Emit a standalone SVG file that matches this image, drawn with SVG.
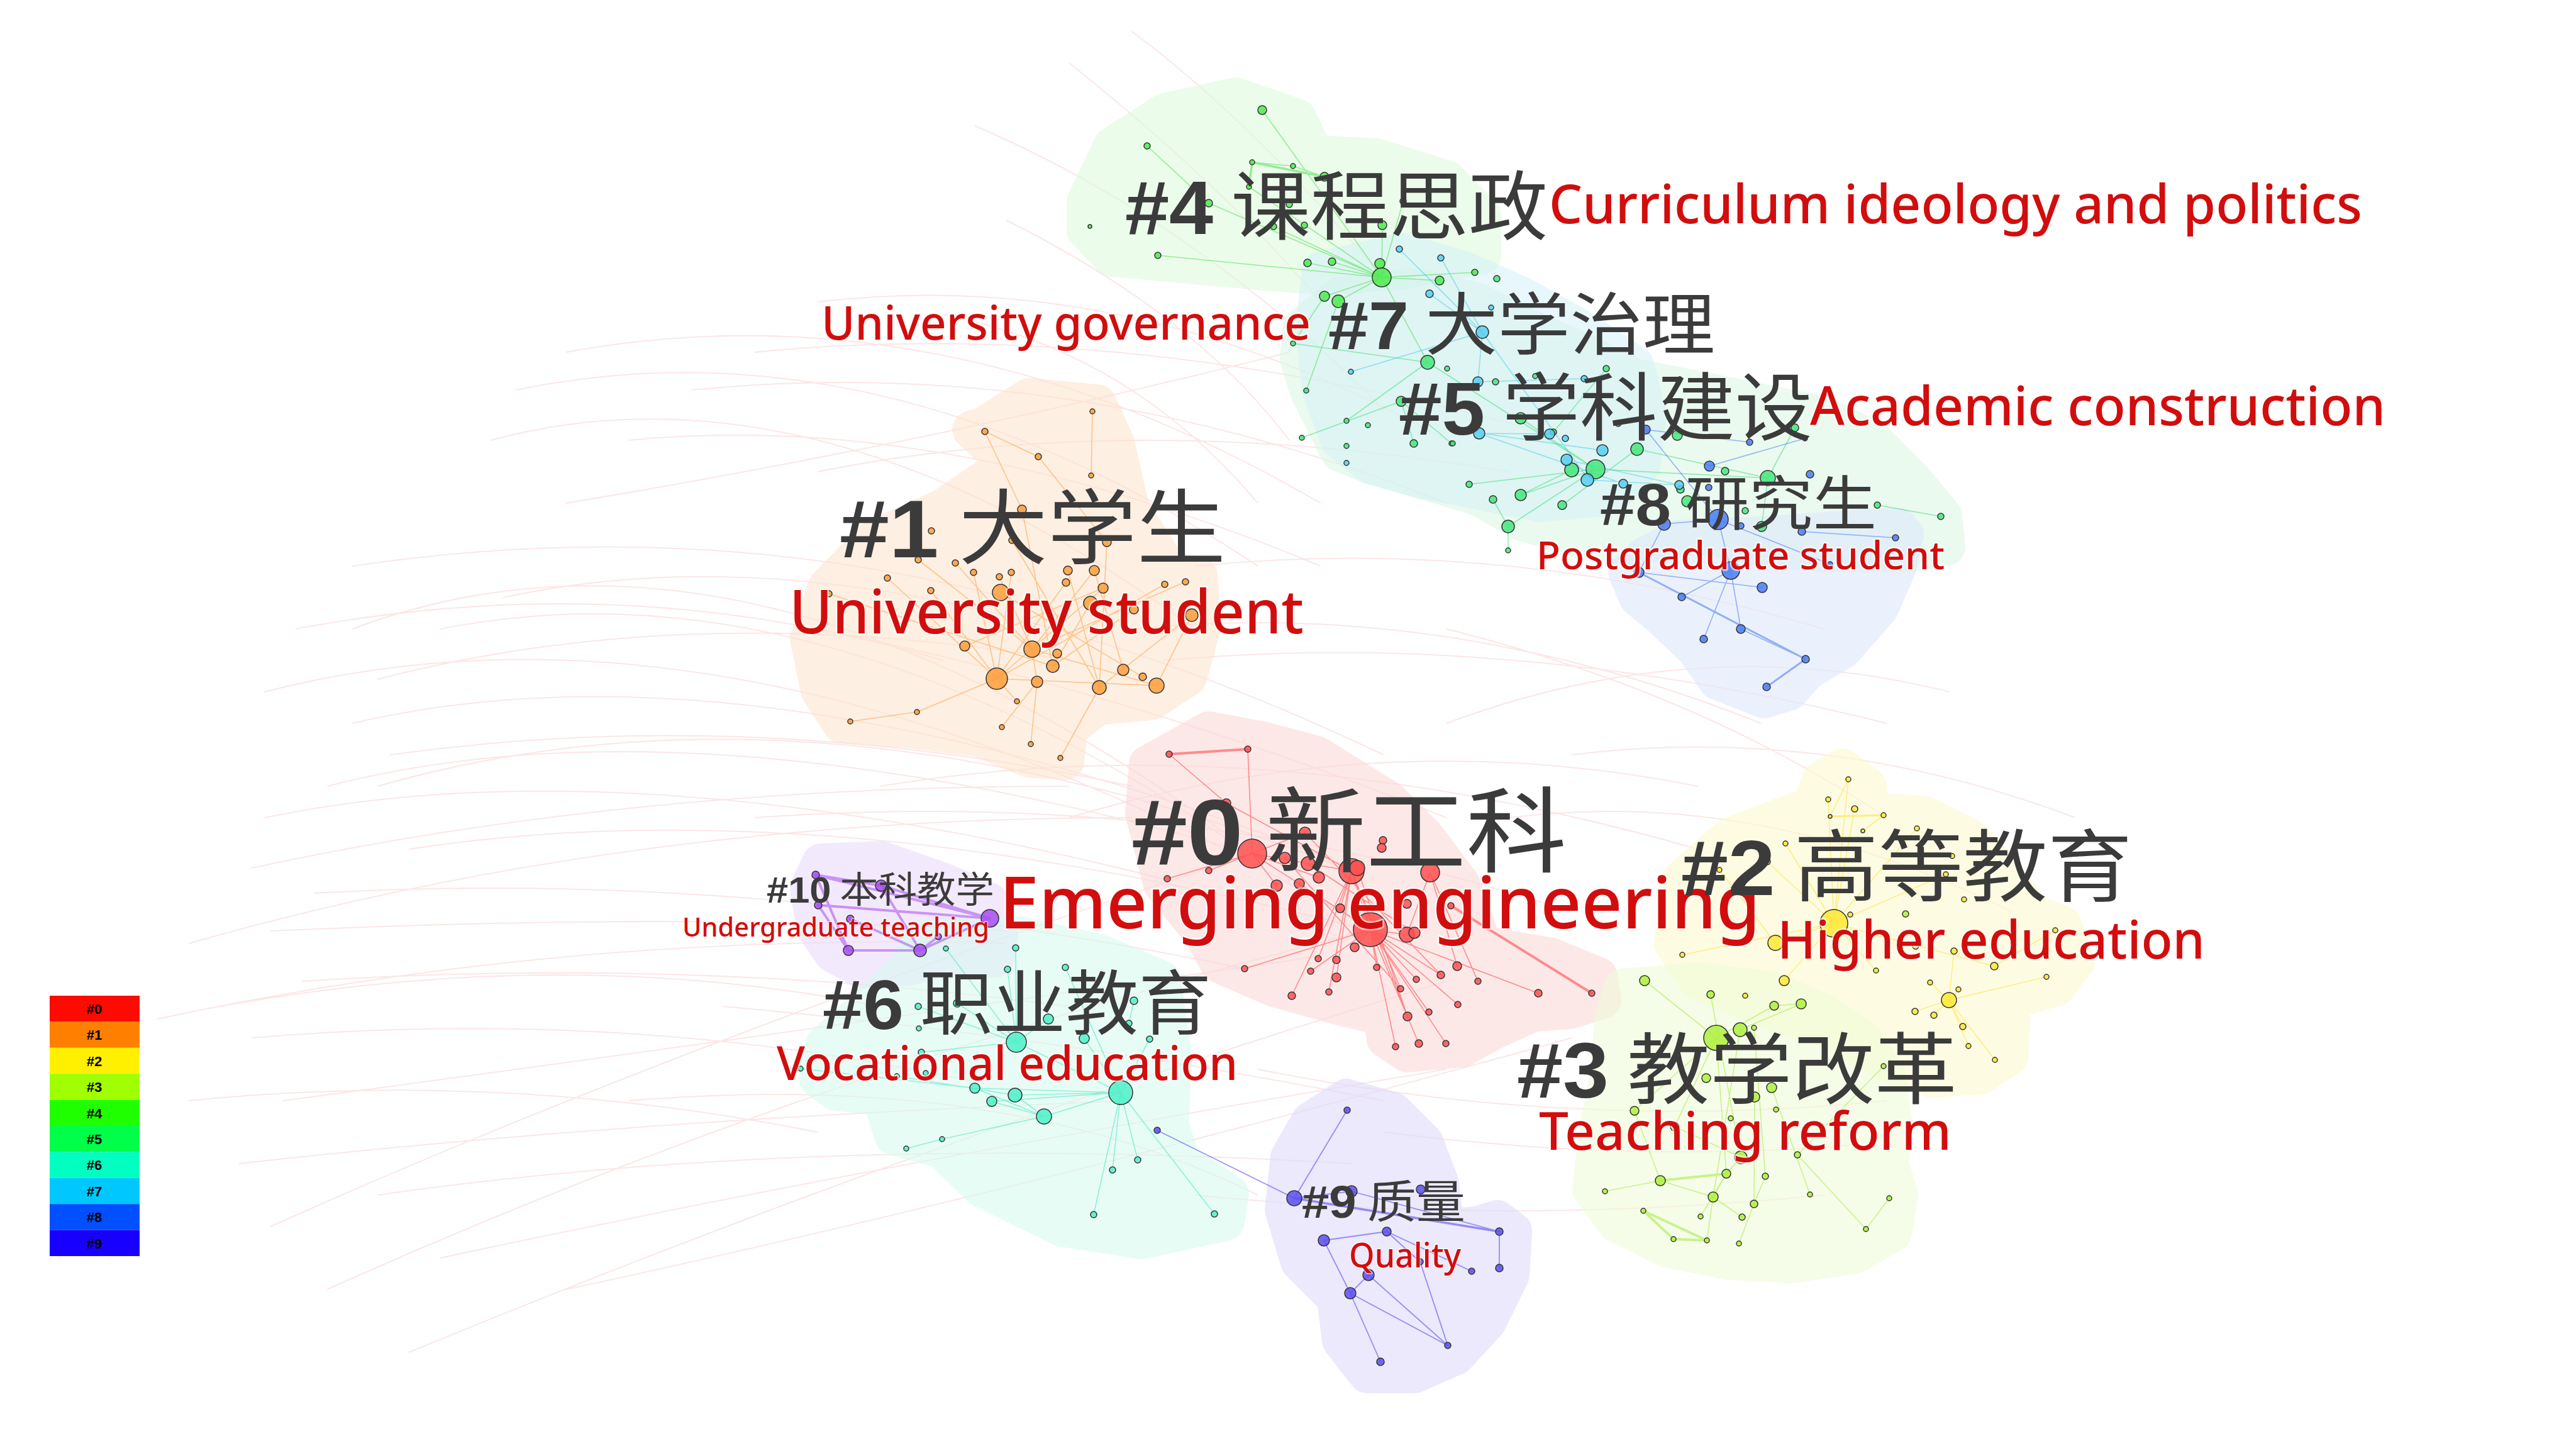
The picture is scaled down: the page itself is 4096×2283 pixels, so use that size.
<svg xmlns="http://www.w3.org/2000/svg" width="4096" height="2283" viewBox="0 0 4096 2283">
<style>
.bl{font-family:"Noto Sans CJK SC","Liberation Sans",sans-serif;fill:#3b3b3b}
.hn{font-family:"Liberation Sans",Arial,sans-serif;font-weight:bold}
.en{font-family:"Noto Sans","Open Sans",sans-serif;font-weight:500;fill:#d20d0d;stroke:#fff;stroke-width:5;stroke-opacity:.6;paint-order:stroke;stroke-linejoin:round}
.area{stroke-width:60;stroke-linejoin:round}
.nodes circle{stroke:#333;stroke-width:1.5;fill-opacity:.85}
.n0 circle{fill:#ff5050}.n1 circle{fill:#ff9d3c}.n2 circle{fill:#ffe835}.n3 circle{fill:#aef03c}
.n4 circle{fill:#4eea4e}.n5 circle{fill:#44e67a}.n6 circle{fill:#4ef0c8}.n7 circle{fill:#56cff2}
.n8 circle{fill:#4a7cf2}.n9 circle{fill:#5a4ef2}.n10 circle{fill:#a44ef2}
.lg{font-family:"Liberation Sans",Arial,sans-serif;font-weight:bold;font-size:22px;fill:#000;text-anchor:middle}
</style>
<rect width="4096" height="2283" fill="#fff"/>

<g id="background-links" fill="none" stroke="#f29a9a" stroke-width="2" opacity="0.25">
<path d="M420,1300Q1000,1180 1860,1400M520,1250Q1100,1100 2000,1360M560,1150Q1200,1000 2150,1380M600,1080Q1100,950 1700,1050M700,1000Q1300,880 1990,1360M800,950Q1400,820 2200,1200M650,1350Q1300,1250 2180,1480M500,1420Q1200,1380 1980,1540M430,1480Q1100,1450 1600,1480M480,1560Q1100,1520 1700,1600M400,1650Q1000,1600 1550,1720M450,1750Q1200,1650 2100,1520M380,1850Q1000,1780 1800,1750M600,1900Q1300,1800 2150,1850M700,2000Q1400,1850 2300,1700M900,2050Q1600,1900 2500,1650M1000,700Q1500,650 2100,900M1100,620Q1700,560 2300,800M1200,560Q1800,500 2500,700M900,800Q1500,700 2050,560M1300,750Q1800,650 2400,750M1500,500Q1800,560 2000,800M1600,350Q1900,500 2050,700M1550,200Q1900,350 2200,650M1700,100Q1950,300 2100,480M1800,50Q2000,200 2197,441M2300,1000Q2700,1100 3000,1300M2000,1700Q2500,1800 3000,1750M2200,1800Q2600,1850 2950,1820M1900,1900Q2400,1950 2900,1900M1300,1000Q1800,1100 2300,1300M1400,1250Q2000,1150 2700,1350M1200,1300Q1900,1250 2500,1450M2400,1300Q2800,1250 3200,1450M2500,1200Q2900,1150 3300,1300M2300,1150Q2700,1000 3100,1100M560,900Q1100,820 1600,950M470,1000Q1000,900 1500,1050M620,1200Q1200,1120 1800,1250M350,1600Q900,1500 1400,1600M300,1750Q800,1700 1300,1800M1150,1600Q1700,1650 2200,1750M1000,1750Q1600,1700 2000,1900M1800,1000Q2300,950 2800,1150M1900,900Q2400,850 2900,1000M780,700Q1300,560 1900,1000M820,620Q1400,500 2000,900M900,560Q1500,450 2100,800M1300,480Q1800,420 2300,700M560,1000Q1200,760 1991,1357M420,1100Q1200,900 2179,1478M600,1250Q1300,1050 2149,1385M430,1950Q1100,1650 1991,1357M520,2050Q1300,1700 2179,1478M650,2150Q1500,1800 2300,1560M300,1500Q1000,1300 1800,1300M400,1380Q1000,1250 1700,1250M250,1620Q900,1480 1600,1500M1700,1300Q2200,1150 2700,1250M1850,1050Q2400,1000 3000,1150"/>
</g>

<g id="cluster-areas">
<g id="area-4" opacity="0.55"><path class="area" fill="#dcfadc" stroke="#dcfadc" d="M1768,232L1852,178L1965,153L2063,187L2091,245L2189,250L2301,285L2357,343L2357,406L2231,430L2110,440L1990,430L1880,420L1768,410L1726,366L1726,321Z"/></g>
<g id="area-5" opacity="0.55"><path class="area" fill="#d9f7e3" stroke="#d9f7e3" d="M2070,520L2130,470L2250,455L2350,480L2450,530L2520,560L2600,600L2700,620L2800,640L2900,660L2980,700L3040,760L3090,820L3095,870L3030,880L2900,880L2800,870L2700,850L2600,870L2520,860L2420,830L2350,790L2250,760L2180,740L2130,720L2110,680L2080,620L2065,570Z"/></g>
<g id="area-7" opacity="0.5"><path class="area" fill="#d3f1f8" stroke="#d3f1f8" d="M2100,430L2230,400L2330,430L2420,470L2510,520L2600,580L2620,660L2610,740L2560,790L2450,800L2350,780L2250,760L2180,740L2130,700L2100,620L2090,520Z"/></g>
<g id="area-8" opacity="0.6"><path class="area" fill="#dfe8fb" stroke="#dfe8fb" d="M2587,910L2616,883L2667,857L2817,850L2960,840L3018,837L3029,850L3018,900L2989,967L2931,1033L2874,1067L2845,1100L2805,1112L2731,1083L2696,1033L2644,983L2604,950Z"/></g>
<g id="area-1" opacity="0.55"><path class="area" fill="#fde3cc" stroke="#fde3cc" d="M1567,675L1636,631L1745,641L1774,704L1797,807L1860,907L1906,915L1912,994L1889,1077L1831,1115L1745,1123L1699,1160L1694,1210L1636,1206L1556,1173L1453,1160L1338,1152L1303,1098L1286,1015L1315,932L1389,857L1499,807L1602,737L1544,683Z"/></g>
<g id="area-0" opacity="0.55"><path class="area" fill="#fcd6d6" stroke="#fcd6d6" d="M1825,1215L1922,1161L2008,1177L2094,1200L2209,1272L2267,1330L2324,1406L2358,1502L2467,1521L2542,1552L2548,1590L2496,1606L2439,1610L2381,1636L2324,1667L2238,1675L2203,1652L2198,1617L2123,1598L2026,1571L1939,1533L1911,1483L1848,1406L1819,1292Z"/></g>
<g id="area-10" opacity="0.6"><path class="area" fill="#ecdcfb" stroke="#ecdcfb" d="M1305,1371L1401,1367L1496,1400L1573,1433L1589,1487L1583,1524L1496,1524L1445,1537L1369,1541L1324,1516L1296,1474L1286,1412Z"/></g>
<g id="area-6" opacity="0.5"><path class="area" fill="#d3fbef" stroke="#d3fbef" d="M1465,1491L1624,1487L1752,1516L1847,1557L1866,1682L1860,1786L1879,1848L1956,1898L1949,1943L1815,1972L1688,1952L1560,1889L1496,1827L1420,1806L1401,1744L1330,1736L1300,1715L1310,1661L1380,1599L1445,1537Z"/></g>
<g id="area-9" opacity="0.6"><path class="area" fill="#dedcfa" stroke="#dedcfa" d="M2141,1745L2215,1766L2265,1816L2290,1882L2298,1952L2348,1948L2381,1938L2406,1957L2402,2027L2365,2102L2315,2156L2249,2185L2174,2185L2132,2131L2124,2064L2066,2006L2041,1923L2050,1840L2083,1782Z"/></g>
<g id="area-2" opacity="0.55"><path class="area" fill="#fcfbcc" stroke="#fcfbcc" d="M2930,1220L2970,1250L2975,1290L3060,1295L3130,1330L3180,1380L3230,1450L3280,1470L3300,1530L3270,1570L3200,1590L3195,1680L3150,1710L3070,1715L3000,1690L2920,1640L2820,1610L2700,1560L2660,1500L2670,1400L2750,1330L2880,1280L2895,1240Z"/></g>
<g id="area-3" opacity="0.55"><path class="area" fill="#eefcd6" stroke="#eefcd6" d="M2580,1570L2700,1560L2820,1575L2900,1610L2960,1650L3000,1710L3010,1780L3005,1850L3020,1900L3010,1960L2950,1995L2850,2010L2750,2005L2650,1985L2570,1945L2530,1890L2540,1800L2560,1700L2565,1620Z"/></g>
</g>

<g id="connectors" fill="none" stroke-linecap="round">
<g id="edges-0" stroke="#ff4040" opacity="0.55" stroke-width="1.6">
<path d="M1984,1191L1991,1357M1859,1199L1950,1277M1991,1357L2075,1324M1991,1357L2149,1385M1991,1357L2179,1478M1991,1357L1922,1384M1991,1357L1856,1397M1991,1357L2030,1408M1991,1357L2097,1395M2149,1385L2131,1444M2149,1385L2179,1478M2149,1385L2096,1524M2149,1385L2125,1554M2149,1385L2054,1583M2149,1385L2113,1577M2149,1385L2227,1572M2149,1385L2238,1616M2179,1478L2237,1486M2179,1478L2154,1506M2179,1478L2189,1538M2179,1478L2252,1557M2179,1478L2291,1550M2179,1478L2318,1597M2179,1478L2272,1609M2179,1478L2219,1664M2179,1478L2256,1659M2179,1478L2299,1659M2179,1478L2446,1579M2179,1478L2084,1544M2179,1478L1979,1540M2274,1387L2237,1486M2274,1387L2350,1560M2274,1387L2317,1536M2066,1405L2179,1478M2080,1373L2249,1483M2158,1380L2238,1616M2043,1364L2227,1572M2075,1324L2291,1550M1950,1277L2149,1385"/>
<path stroke-width="4" d="M1859,1199L1984,1191M2307,1440L2531,1579"/>
</g>
<g id="edges-1" stroke="#ff9a30" opacity="0.5" stroke-width="1.6">
<path d="M1737,654L1735,756M1566,686L1651,726M1566,686L1625,810M1651,726L1760,862M1585,1079L1411,919M1585,1079L1480,939M1585,1079L1548,910M1585,1079L1608,910M1585,1079L1695,926M1585,1079L1754,935M1585,1079L1852,929M1585,1079L1458,1132M1585,1079L1617,1115M1585,1079L1839,1090M1641,1032L1460,890M1641,1032L1519,895M1641,1032L1589,917M1641,1032L1740,907M1641,1032L1885,925M1641,1032L1839,1090M1641,1032L1649,1084M1748,1093L1698,907M1748,1093L1760,862M1748,1093L1609,859M1748,1093L1686,1205M1748,1093L1895,978M1674,1059L1625,810M1674,1059L1734,959M1674,1059L1803,969M1674,1059L1318,944M1649,1084L1593,1156M1649,1084L1639,1183M1352,1147L1458,1132M1839,1090L1895,978M1786,1065L1740,907M1534,1027L1754,935M1591,942L1817,1076"/>
</g>
<g id="edges-10" stroke="#a040f0" opacity="0.5" stroke-width="4">
<path d="M1297,1391L1574,1460M1401,1408L1574,1460M1301,1439L1574,1460M1349,1511L1463,1511M1463,1511L1574,1460M1297,1391L1349,1511M1401,1408L1463,1511M1352,1461L1463,1511M1297,1391L1401,1408M1301,1439L1349,1511M1492,1489L1463,1511"/>
</g>
<g id="edges-6" stroke="#30e8b8" opacity="0.5" stroke-width="1.6">
<path d="M1782,1737L1614,1741M1782,1737L1577,1751M1782,1737L1550,1730M1782,1737L1660,1775M1782,1737L1769,1860M1782,1737L1809,1844M1782,1737L1931,1930M1782,1737L1739,1931M1782,1737L1694,1538M1782,1737L1828,1652M1782,1737L1616,1657M1616,1657L1522,1595M1616,1657L1602,1541M1616,1657L1615,1507M1616,1657L1504,1508M1616,1657L1460,1600M1616,1657L1465,1673M1616,1657L1667,1620M1660,1775L1498,1811M1660,1775L1550,1730M1660,1775L1577,1751M1660,1775L1614,1741M1498,1811L1441,1826M1273,1699L1550,1730M1426,1711L1614,1741M1803,1591L1795,1627M1724,1651L1782,1737"/>
</g>
<g id="edges-9" stroke="#5040f0" opacity="0.55" stroke-width="1.8">
<path d="M1840,1797L2058,1905M2142,1765L2058,1905M2149,1894L2384,1958M2384,1958L2384,2016M2105,1972L2147,2056M2147,2056L2176,2027M2147,2056L2302,2139M2176,2027L2302,2139M2147,2056L2195,2165M2205,1958L2258,2006M2258,2006L2302,2139M2105,1972L2205,1958M2205,1958L2340,2021M2058,1905L2149,1894"/>
<path stroke-width="3.5" d="M2058,1905L2384,1958"/>
</g>
<g id="edges-3" stroke="#9ee830" opacity="0.5" stroke-width="1.6">
<path d="M2615,1559L2729,1650M2720,1581L2768,1840M2821,1599L2864,1596M2821,1599L2729,1650M2864,1596L2767,1637M2729,1650L2599,1766M2729,1650L2663,1791M2729,1650L2745,1866M2767,1637L2724,1903M2789,1634L2807,1870M2817,1729L2878,1899M2790,1744L2789,1914M2768,1840L2745,1866M2745,1866L2724,1903M2724,1903L2770,1935M2789,1914L2765,1977M2807,1870L2789,1914M2967,1954L3004,1905M2967,1954L2858,1836M2640,1877L2724,1903M2552,1894L2640,1877M2704,1934L2745,1866M2714,1972L2724,1903M2599,1766L2640,1877M2663,1791L2768,1840M2858,1836L2995,1695"/>
<path stroke-width="4" d="M2640,1877L2745,1866M2613,1925L2661,1970L2714,1972Z"/>
</g>
<g id="edges-2" stroke="#ffe020" opacity="0.5" stroke-width="1.6">
<path d="M2916,1468L2939,1239M2916,1468L2907,1271M2916,1468L2949,1286M2916,1468L3048,1317M2916,1468L2839,1341M2916,1468L2810,1370M2916,1468L3094,1390M2916,1468L2942,1454M2916,1468L2823,1499M2916,1468L2675,1518M2916,1468L3046,1504M2916,1468L2983,1543M2916,1468L2837,1559M2916,1468L3171,1536M3099,1590L3069,1562M3099,1590L3114,1573M3099,1590L3045,1608M3099,1590L3075,1614M3099,1590L3121,1632M3099,1590L3130,1663M3099,1590L3172,1685M3099,1590L3254,1553M3099,1590L3107,1512M2939,1239L2910,1298M2995,1296L2962,1321M2823,1499L2734,1383M3171,1536L3268,1479"/>
<path stroke-width="3" d="M2910,1298L2995,1296"/>
</g>
<g id="edges-4" stroke="#40e040" opacity="0.5" stroke-width="1.6">
<path d="M2007,175L2197,441M1824,232L1922,323M1991,258L2056,264M2056,264L2106,281M1922,323L2197,441M2197,441L2079,418M2197,441L2118,416M2197,441L2345,433M2197,441L2106,471M2197,441L2289,446M2197,441L2270,576M2197,441L2128,479M2106,471L2056,546M2128,479L2077,621M2197,441L2025,360M2197,441L1986,297M1841,406L2197,441M2198,358L2197,441M2231,320L2197,441"/>
<path stroke-width="3.5" d="M1991,258L2106,281M1991,258L1986,297"/>
</g>
<g id="edges-5" stroke="#30dd70" opacity="0.5" stroke-width="1.6">
<path d="M2270,576L2056,546M2270,576L2141,669M2537,746L2398,837M2537,746L2336,770M2537,746L2418,787M2537,746L2811,760M2985,803L3086,821M2398,837L2398,875M2374,794L2398,837M2418,787L2499,747M2603,714L2484,803M2228,638L2070,696M2228,638L2248,705M2228,638L2308,705M2603,714L2811,760M2554,586L2470,687M2801,837L2811,760M2418,665L2537,746M2270,576L2537,746M2854,680L2811,760"/>
</g>
<g id="edges-7" stroke="#40c8f0" opacity="0.5" stroke-width="1.6">
<path d="M2357,528L2225,396M2357,528L2291,410M2357,528L2148,591M2357,528L2350,607M2357,528L2526,763M2350,607L2519,602M2464,690L2352,689M2548,716L2357,689M2526,763L2670,771M2273,467L2357,528M2352,689L2581,769M2491,731L2670,771"/>
</g>
<g id="edges-8" stroke="#3a70f0" opacity="0.5" stroke-width="1.6">
<path d="M2732,826L2617,683M2732,826L2646,833M2732,826L2752,907M2752,907L2709,1016M2752,907L2768,1000M2752,907L2674,949M2606,910L2802,934M2768,1000L2871,1048M2865,845L3014,855M2616,683L2782,703M2718,741L2870,697M2646,833L2606,910M2732,826L2910,897"/>
<path stroke-width="3" d="M2606,910L2871,1048M2871,1048L2809,1092"/>
</g>
</g>

<g id="cluster-0-nodes" class="nodes n0">
<circle cx="1859" cy="1199" r="5"/><circle cx="1984" cy="1191" r="5"/><circle cx="1950" cy="1277" r="7"/><circle cx="1991" cy="1357" r="23"/><circle cx="2075" cy="1324" r="9"/><circle cx="2043" cy="1364" r="9"/><circle cx="2080" cy="1373" r="11"/><circle cx="2149" cy="1385" r="20"/><circle cx="2158" cy="1380" r="12"/><circle cx="2199" cy="1336" r="6"/><circle cx="2197" cy="1348" r="7"/><circle cx="2274" cy="1387" r="15"/><circle cx="2097" cy="1395" r="9"/><circle cx="2066" cy="1405" r="8"/><circle cx="2030" cy="1408" r="9"/><circle cx="1922" cy="1384" r="5"/><circle cx="1856" cy="1397" r="5"/><circle cx="2131" cy="1444" r="7"/><circle cx="2237" cy="1437" r="7"/><circle cx="2307" cy="1440" r="5"/><circle cx="2179" cy="1478" r="27"/><circle cx="2237" cy="1486" r="12"/><circle cx="2249" cy="1483" r="9"/><circle cx="2154" cy="1506" r="7"/><circle cx="2096" cy="1524" r="5"/><circle cx="2125" cy="1526" r="6"/><circle cx="1979" cy="1540" r="5"/><circle cx="2084" cy="1544" r="5"/><circle cx="2189" cy="1538" r="5"/><circle cx="2317" cy="1536" r="7"/><circle cx="2125" cy="1554" r="7"/><circle cx="2252" cy="1557" r="5"/><circle cx="2291" cy="1550" r="6"/><circle cx="2350" cy="1560" r="5"/><circle cx="2054" cy="1583" r="6"/><circle cx="2113" cy="1577" r="5"/><circle cx="2227" cy="1572" r="5"/><circle cx="2446" cy="1579" r="6"/><circle cx="2531" cy="1579" r="5"/><circle cx="2318" cy="1597" r="5"/><circle cx="2272" cy="1609" r="5"/><circle cx="2238" cy="1616" r="7"/><circle cx="2219" cy="1664" r="5"/><circle cx="2256" cy="1659" r="6"/><circle cx="2299" cy="1659" r="5"/>
</g>
<g id="cluster-1-nodes" class="nodes n1">
<circle cx="1737" cy="654" r="4"/><circle cx="1566" cy="686" r="5"/><circle cx="1651" cy="726" r="5"/><circle cx="1735" cy="756" r="4"/><circle cx="1625" cy="810" r="7"/><circle cx="1481" cy="844" r="5"/><circle cx="1609" cy="859" r="5"/><circle cx="1760" cy="862" r="7"/><circle cx="1460" cy="890" r="5"/><circle cx="1519" cy="895" r="5"/><circle cx="1548" cy="910" r="5"/><circle cx="1608" cy="910" r="5"/><circle cx="1698" cy="907" r="7"/><circle cx="1740" cy="907" r="8"/><circle cx="1589" cy="917" r="5"/><circle cx="1411" cy="919" r="5"/><circle cx="1695" cy="926" r="6"/><circle cx="1754" cy="935" r="8"/><circle cx="1852" cy="929" r="5"/><circle cx="1885" cy="925" r="5"/><circle cx="1318" cy="944" r="5"/><circle cx="1480" cy="939" r="5"/><circle cx="1591" cy="942" r="13"/><circle cx="1734" cy="959" r="11"/><circle cx="1803" cy="969" r="7"/><circle cx="1895" cy="978" r="10"/><circle cx="1534" cy="1027" r="8"/><circle cx="1641" cy="1032" r="13"/><circle cx="1681" cy="1039" r="7"/><circle cx="1674" cy="1059" r="10"/><circle cx="1585" cy="1079" r="17"/><circle cx="1786" cy="1065" r="9"/><circle cx="1817" cy="1076" r="6"/><circle cx="1649" cy="1084" r="9"/><circle cx="1748" cy="1093" r="11"/><circle cx="1839" cy="1090" r="12"/><circle cx="1617" cy="1115" r="4"/><circle cx="1458" cy="1132" r="4"/><circle cx="1352" cy="1147" r="4"/><circle cx="1593" cy="1156" r="4"/><circle cx="1639" cy="1183" r="4"/><circle cx="1686" cy="1205" r="4"/>
</g>
<g id="cluster-10-nodes" class="nodes n10">
<circle cx="1297" cy="1391" r="6"/><circle cx="1401" cy="1408" r="9"/><circle cx="1301" cy="1439" r="6"/><circle cx="1574" cy="1460" r="14"/><circle cx="1352" cy="1461" r="6"/><circle cx="1492" cy="1489" r="5"/><circle cx="1349" cy="1511" r="8"/><circle cx="1463" cy="1511" r="10"/>
</g>
<g id="cluster-6-nodes" class="nodes n6">
<circle cx="1504" cy="1508" r="4"/><circle cx="1615" cy="1507" r="5"/><circle cx="1694" cy="1538" r="5"/><circle cx="1602" cy="1541" r="5"/><circle cx="1522" cy="1595" r="6"/><circle cx="1460" cy="1600" r="5"/><circle cx="1667" cy="1620" r="8"/><circle cx="1803" cy="1591" r="6"/><circle cx="1795" cy="1627" r="5"/><circle cx="1724" cy="1651" r="8"/><circle cx="1828" cy="1652" r="5"/><circle cx="1461" cy="1635" r="4"/><circle cx="1616" cy="1657" r="16"/><circle cx="1465" cy="1673" r="5"/><circle cx="1273" cy="1699" r="4"/><circle cx="1426" cy="1711" r="4"/><circle cx="1472" cy="1706" r="4"/><circle cx="1550" cy="1730" r="8"/><circle cx="1614" cy="1741" r="11"/><circle cx="1577" cy="1751" r="8"/><circle cx="1782" cy="1737" r="19"/><circle cx="1660" cy="1775" r="12"/><circle cx="1498" cy="1811" r="4"/><circle cx="1441" cy="1826" r="4"/><circle cx="1809" cy="1844" r="5"/><circle cx="1769" cy="1860" r="5"/><circle cx="1739" cy="1931" r="5"/><circle cx="1931" cy="1930" r="5"/>
</g>
<g id="cluster-9-nodes" class="nodes n9">
<circle cx="1840" cy="1797" r="5"/><circle cx="2142" cy="1765" r="5"/><circle cx="2058" cy="1905" r="12"/><circle cx="2149" cy="1894" r="9"/><circle cx="2259" cy="1891" r="7"/><circle cx="2205" cy="1958" r="7"/><circle cx="2105" cy="1972" r="9"/><circle cx="2384" cy="1958" r="6"/><circle cx="2384" cy="2016" r="6"/><circle cx="2340" cy="2021" r="5"/><circle cx="2258" cy="2006" r="5"/><circle cx="2176" cy="2027" r="9"/><circle cx="2147" cy="2056" r="9"/><circle cx="2302" cy="2139" r="5"/><circle cx="2195" cy="2165" r="6"/>
</g>
<g id="cluster-3-nodes" class="nodes n3">
<circle cx="2615" cy="1559" r="8"/><circle cx="2720" cy="1581" r="6"/><circle cx="2821" cy="1599" r="7"/><circle cx="2864" cy="1596" r="8"/><circle cx="2729" cy="1650" r="20" fill-opacity=".5"/><circle cx="2767" cy="1637" r="11" fill-opacity=".5"/><circle cx="2789" cy="1634" r="4"/><circle cx="2713" cy="1714" r="7" fill-opacity=".5"/><circle cx="2817" cy="1729" r="8" fill-opacity=".5"/><circle cx="2790" cy="1744" r="8" fill-opacity=".5"/><circle cx="2824" cy="1764" r="4"/><circle cx="2752" cy="1778" r="4"/><circle cx="2995" cy="1695" r="4"/><circle cx="2858" cy="1836" r="5"/><circle cx="2768" cy="1840" r="10" fill-opacity=".5"/><circle cx="2745" cy="1866" r="7"/><circle cx="2807" cy="1870" r="5"/><circle cx="2724" cy="1903" r="8"/><circle cx="2789" cy="1914" r="6"/><circle cx="2878" cy="1899" r="4"/><circle cx="3004" cy="1905" r="4"/><circle cx="2704" cy="1934" r="4"/><circle cx="2770" cy="1935" r="5"/><circle cx="2967" cy="1954" r="4"/><circle cx="2714" cy="1972" r="4"/><circle cx="2765" cy="1977" r="4"/><circle cx="2599" cy="1766" r="7"/><circle cx="2663" cy="1791" r="7"/><circle cx="2552" cy="1894" r="4"/><circle cx="2640" cy="1877" r="8"/><circle cx="2613" cy="1925" r="4"/><circle cx="2661" cy="1970" r="4"/><circle cx="3030" cy="1453" r="5"/>
</g>
<g id="cluster-2-nodes" class="nodes n2">
<circle cx="2939" cy="1239" r="4"/><circle cx="2907" cy="1271" r="4"/><circle cx="2949" cy="1286" r="5"/><circle cx="2995" cy="1296" r="4"/><circle cx="2910" cy="1298" r="3"/><circle cx="3048" cy="1317" r="4"/><circle cx="2962" cy="1321" r="3"/><circle cx="2839" cy="1341" r="4"/><circle cx="3104" cy="1361" r="4"/><circle cx="2810" cy="1370" r="5"/><circle cx="2734" cy="1383" r="4"/><circle cx="3094" cy="1390" r="4"/><circle cx="3123" cy="1430" r="4"/><circle cx="2942" cy="1454" r="4"/><circle cx="2916" cy="1468" r="22"/><circle cx="2823" cy="1499" r="12"/><circle cx="3046" cy="1504" r="5"/><circle cx="3107" cy="1512" r="5"/><circle cx="2675" cy="1518" r="4"/><circle cx="3268" cy="1479" r="4"/><circle cx="2983" cy="1543" r="4"/><circle cx="3171" cy="1536" r="6"/><circle cx="2837" cy="1559" r="8"/><circle cx="3254" cy="1553" r="4"/><circle cx="3069" cy="1562" r="4"/><circle cx="3114" cy="1573" r="4"/><circle cx="2775" cy="1583" r="4"/><circle cx="3099" cy="1590" r="12"/><circle cx="3045" cy="1608" r="5"/><circle cx="3075" cy="1614" r="5"/><circle cx="3121" cy="1632" r="5"/><circle cx="3130" cy="1663" r="4"/><circle cx="3172" cy="1685" r="4"/>
</g>
<g id="cluster-4-nodes" class="nodes n4">
<circle cx="2007" cy="175" r="7"/><circle cx="1991" cy="258" r="4"/><circle cx="2056" cy="264" r="4"/><circle cx="2106" cy="281" r="7" fill-opacity=".5"/><circle cx="1922" cy="323" r="6" fill-opacity=".5"/><circle cx="1986" cy="297" r="4"/><circle cx="2050" cy="325" r="5" fill-opacity=".5"/><circle cx="2198" cy="358" r="7" fill-opacity=".5"/><circle cx="2231" cy="320" r="5" fill-opacity=".5"/><circle cx="2074" cy="358" r="5"/><circle cx="2025" cy="360" r="5"/><circle cx="2079" cy="418" r="6"/><circle cx="2118" cy="416" r="6"/><circle cx="2194" cy="419" r="8"/><circle cx="2197" cy="441" r="15"/><circle cx="2289" cy="446" r="7"/><circle cx="2345" cy="433" r="5"/><circle cx="2106" cy="471" r="8"/><circle cx="2128" cy="479" r="10" fill-opacity=".5"/><circle cx="1824" cy="232" r="5"/><circle cx="1733" cy="360" r="3"/><circle cx="1841" cy="406" r="5"/>
</g>
<g id="cluster-5-nodes" class="nodes n5">
<circle cx="2380" cy="443" r="5"/><circle cx="2270" cy="576" r="11"/><circle cx="2056" cy="546" r="4"/><circle cx="2077" cy="621" r="4"/><circle cx="2301" cy="586" r="4"/><circle cx="2378" cy="607" r="5"/><circle cx="2441" cy="598" r="4"/><circle cx="2554" cy="586" r="5"/><circle cx="2228" cy="638" r="8"/><circle cx="2141" cy="669" r="4"/><circle cx="2175" cy="676" r="4"/><circle cx="2070" cy="696" r="4"/><circle cx="2248" cy="705" r="6"/><circle cx="2308" cy="705" r="4"/><circle cx="2141" cy="709" r="4"/><circle cx="2470" cy="687" r="5"/><circle cx="2418" cy="665" r="9"/><circle cx="2310" cy="705" r="4"/><circle cx="2667" cy="692" r="8"/><circle cx="2854" cy="680" r="6"/><circle cx="2603" cy="714" r="10"/><circle cx="2499" cy="747" r="11"/><circle cx="2537" cy="746" r="15"/><circle cx="2743" cy="749" r="6"/><circle cx="2811" cy="760" r="12"/><circle cx="2336" cy="770" r="5"/><circle cx="2374" cy="794" r="6"/><circle cx="2418" cy="787" r="9"/><circle cx="2484" cy="803" r="7"/><circle cx="2672" cy="778" r="6"/><circle cx="2683" cy="797" r="9"/><circle cx="2398" cy="837" r="10"/><circle cx="2775" cy="812" r="5"/><circle cx="2801" cy="837" r="8"/><circle cx="2985" cy="803" r="5"/><circle cx="3086" cy="821" r="5"/><circle cx="2398" cy="875" r="4"/>
</g>
<g id="cluster-7-nodes" class="nodes n7">
<circle cx="2225" cy="396" r="5"/><circle cx="2291" cy="410" r="5"/><circle cx="2273" cy="467" r="6"/><circle cx="2371" cy="489" r="4"/><circle cx="2357" cy="528" r="10"/><circle cx="2148" cy="591" r="4"/><circle cx="2350" cy="607" r="8"/><circle cx="2519" cy="602" r="5"/><circle cx="2141" cy="736" r="4"/><circle cx="2352" cy="689" r="9"/><circle cx="2464" cy="690" r="8"/><circle cx="2489" cy="697" r="5"/><circle cx="2548" cy="716" r="9"/><circle cx="2491" cy="731" r="9"/><circle cx="2524" cy="763" r="10"/><circle cx="2581" cy="769" r="7"/><circle cx="2670" cy="771" r="7"/>
</g>
<g id="cluster-8-nodes" class="nodes n8">
<circle cx="2573" cy="673" r="5"/><circle cx="2617" cy="683" r="7"/><circle cx="2782" cy="703" r="5"/><circle cx="2870" cy="697" r="4"/><circle cx="2718" cy="741" r="8"/><circle cx="2878" cy="754" r="6"/><circle cx="2717" cy="775" r="5"/><circle cx="2732" cy="826" r="16"/><circle cx="2646" cy="833" r="10"/><circle cx="2768" cy="836" r="5"/><circle cx="2865" cy="845" r="6"/><circle cx="3014" cy="855" r="5"/><circle cx="2752" cy="907" r="14"/><circle cx="2606" cy="910" r="8"/><circle cx="2910" cy="897" r="4"/><circle cx="2802" cy="934" r="8"/><circle cx="2674" cy="949" r="6"/><circle cx="2768" cy="1000" r="7"/><circle cx="2709" cy="1016" r="6"/><circle cx="2871" cy="1048" r="6"/><circle cx="2809" cy="1092" r="6"/>
</g>

<g id="labels">
<g id="label-4"><text class="bl" x="1789" y="372" font-size="120" textLength="672" lengthAdjust="spacingAndGlyphs"><tspan class="hn">#4</tspan> 课程思政</text>
<text class="en" x="2463" y="355" font-size="86" textLength="1293" lengthAdjust="spacingAndGlyphs">Curriculum ideology and politics</text></g>
<g id="label-7"><text class="bl" x="2112" y="555" font-size="108" textLength="615" lengthAdjust="spacingAndGlyphs"><tspan class="hn">#7</tspan> 大学治理</text>
<text class="en" x="1306" y="540" font-size="74" textLength="778" lengthAdjust="spacingAndGlyphs">University governance</text></g>
<g id="label-5"><text class="bl" x="2224" y="691" font-size="118" textLength="658" lengthAdjust="spacingAndGlyphs"><tspan class="hn">#5</tspan> 学科建设</text>
<text class="en" x="2878" y="676" font-size="86" textLength="915" lengthAdjust="spacingAndGlyphs">Academic construction</text></g>
<g id="label-8"><text class="bl" x="2544" y="835" font-size="94" textLength="440" lengthAdjust="spacingAndGlyphs"><tspan class="hn">#8</tspan> 研究生</text>
<text class="en" x="2443" y="905" font-size="62" textLength="649" lengthAdjust="spacingAndGlyphs">Postgraduate student</text></g>
<g id="label-1"><text class="bl" x="1335" y="886" font-size="130" textLength="614" lengthAdjust="spacingAndGlyphs"><tspan class="hn">#1</tspan> 大学生</text>
<text class="en" x="1255" y="1007" font-size="96" textLength="818" lengthAdjust="spacingAndGlyphs">University student</text></g>
<g id="label-0"><text class="bl" x="1799" y="1375" font-size="148" textLength="692" lengthAdjust="spacingAndGlyphs"><tspan class="hn">#0</tspan> 新工科</text>
<text class="en" x="1589" y="1476" font-size="115" textLength="1210" lengthAdjust="spacingAndGlyphs">Emerging engineering</text></g>
<g id="label-2"><text class="bl" x="2673" y="1423" font-size="125" textLength="717" lengthAdjust="spacingAndGlyphs"><tspan class="hn">#2</tspan> 高等教育</text>
<text class="en" x="2826" y="1524" font-size="84" textLength="680" lengthAdjust="spacingAndGlyphs">Higher education</text></g>
<g id="label-10"><text class="bl" x="1219" y="1435" font-size="58" textLength="362" lengthAdjust="spacingAndGlyphs"><tspan class="hn">#10</tspan> 本科教学</text>
<text class="en" x="1085" y="1489" font-size="42" textLength="488" lengthAdjust="spacingAndGlyphs" style="stroke-width:3">Undergraduate teaching</text></g>
<g id="label-6"><text class="bl" x="1308" y="1636" font-size="112" textLength="618" lengthAdjust="spacingAndGlyphs"><tspan class="hn">#6</tspan> 职业教育</text>
<text class="en" x="1235" y="1717" font-size="74" textLength="733" lengthAdjust="spacingAndGlyphs">Vocational education</text></g>
<g id="label-3"><text class="bl" x="2412" y="1745" font-size="124" textLength="700" lengthAdjust="spacingAndGlyphs"><tspan class="hn">#3</tspan> 教学改革</text>
<text class="en" x="2447" y="1828" font-size="83" textLength="656" lengthAdjust="spacingAndGlyphs">Teaching reform</text></g>
<g id="label-9"><text class="bl" x="2070" y="1936" font-size="72" textLength="260" lengthAdjust="spacingAndGlyphs"><tspan class="hn">#9</tspan> 质量</text>
<text class="en" x="2145" y="2015" font-size="54" textLength="178" lengthAdjust="spacingAndGlyphs" style="stroke-width:3">Quality</text></g>
</g>

<g id="legend">
<rect x="79" y="1583" width="143" height="41.4" fill="#ff0a00"/>
<rect x="79" y="1624.4" width="143" height="41.4" fill="#ff8000"/>
<rect x="79" y="1665.8" width="143" height="41.4" fill="#fff000"/>
<rect x="79" y="1707.2" width="143" height="41.4" fill="#a0ff00"/>
<rect x="79" y="1748.6" width="143" height="41.4" fill="#20ff00"/>
<rect x="79" y="1790" width="143" height="41.4" fill="#00ff48"/>
<rect x="79" y="1831.4" width="143" height="41.4" fill="#00ffc0"/>
<rect x="79" y="1872.8" width="143" height="41.4" fill="#00c8ff"/>
<rect x="79" y="1914.2" width="143" height="41.4" fill="#0050ff"/>
<rect x="79" y="1955.6" width="143" height="41.4" fill="#1800ff"/>
<text class="lg" x="150" y="1612">#0</text>
<text class="lg" x="150" y="1653">#1</text>
<text class="lg" x="150" y="1695">#2</text>
<text class="lg" x="150" y="1736">#3</text>
<text class="lg" x="150" y="1778">#4</text>
<text class="lg" x="150" y="1819">#5</text>
<text class="lg" x="150" y="1860">#6</text>
<text class="lg" x="150" y="1902">#7</text>
<text class="lg" x="150" y="1943">#8</text>
<text class="lg" x="150" y="1985">#9</text>
</g>
</svg>
